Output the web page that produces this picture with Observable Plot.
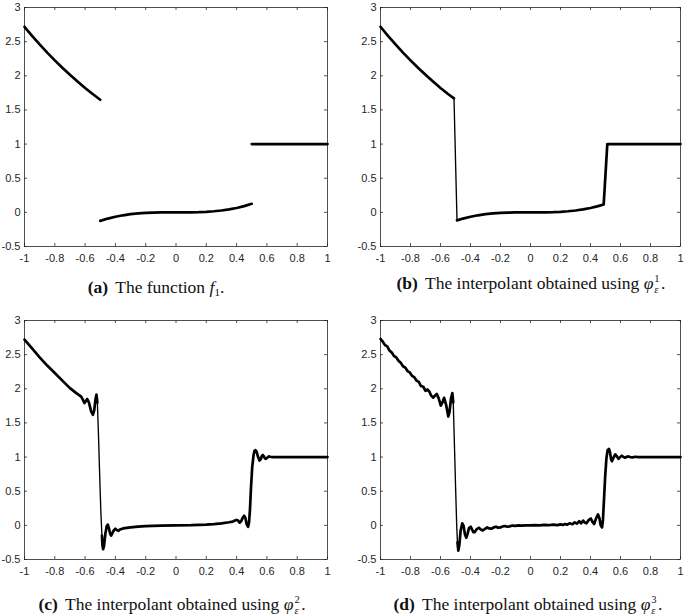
<!DOCTYPE html>
<html><head><meta charset="utf-8">
<script src="https://cdn.jsdelivr.net/npm/d3@7"></script>
<script src="https://cdn.jsdelivr.net/npm/@observablehq/plot@0.6"></script>
<style>
body{margin:0;background:#fff;}
#root{position:relative;width:685px;height:615px;overflow:hidden;background:#fff}
.panel{position:absolute}
.panel svg{overflow:visible;background:transparent}
.cap{position:absolute;font-family:"Liberation Serif","Times New Roman",serif;font-size:17.5px;white-space:nowrap;line-height:1;color:#111;transform:translateX(-50%)}
.cap b{margin-right:3px}
.ss{display:inline-flex;flex-direction:column;font-size:10.5px;line-height:11px;vertical-align:7px;margin-left:1px;margin-right:1.5px}
.cap sub{font-size:11px;vertical-align:-3px;line-height:0}
</style></head>
<body><div id="root"></div>
<script>
// ---- axis ticks ----
const xTicks = [-1,-0.8,-0.6,-0.4,-0.2,0,0.2,0.4,0.6,0.8,1];
const xTickLabels = ["-1","-0.8","-0.6","-0.4","-0.2","0","0.2","0.4","0.6","0.8","1"];
const yTicks = [-0.5,0,0.5,1,1.5,2,2.5,3];
const yTickLabels = ["-0.5","0","0.5","1","1.5","2","2.5","3"];

// ---- (a) the function f1 ----
const aLeft = [[-1,2.718],[-0.95,2.586],[-0.9,2.460],[-0.85,2.340],[-0.8,2.226],[-0.75,2.117],[-0.7,2.014],[-0.65,1.916],[-0.6,1.822],[-0.55,1.733],[-0.5,1.649]];
const aMid = [[-0.5,-0.125],[-0.45,-0.091],[-0.4,-0.064],[-0.35,-0.043],[-0.3,-0.027],[-0.25,-0.016],[-0.2,-0.008],[-0.15,-0.003],[-0.1,-0.001],[0,0],[0.1,0.001],[0.15,0.003],[0.2,0.008],[0.25,0.016],[0.3,0.027],[0.35,0.043],[0.4,0.064],[0.45,0.091],[0.5,0.125]];
const aRight = [[0.5,1],[1,1]];

// ---- (b) interpolant, phi^1 ----
const bLeft = [[-1,2.718],[-0.95,2.586],[-0.9,2.460],[-0.85,2.340],[-0.8,2.226],[-0.75,2.117],[-0.7,2.014],[-0.65,1.916],[-0.6,1.822],[-0.55,1.733],[-0.51,1.67]];
const bDrop = [[-0.51,1.67],[-0.49,-0.118]];
const bRest = [[-0.49,-0.118],[-0.45,-0.091],[-0.4,-0.064],[-0.35,-0.043],[-0.3,-0.027],[-0.25,-0.016],[-0.2,-0.008],[-0.15,-0.003],[-0.1,-0.001],[0,0],[0.1,0.001],[0.15,0.003],[0.2,0.008],[0.25,0.016],[0.3,0.027],[0.35,0.043],[0.4,0.064],[0.45,0.091],[0.488,0.116],[0.512,1.0],[1,1]];

// ---- (c) interpolant, phi^2 ----
const cLeft = [[-1,2.72],[-0.95,2.59],[-0.9,2.46],[-0.85,2.34],[-0.8,2.23],[-0.75,2.12],[-0.7,2.01],[-0.66,1.94],[-0.626,1.886],[-0.615,1.84],[-0.604,1.79],[-0.595,1.82],[-0.586,1.85],[-0.575,1.80],[-0.56,1.67],[-0.549,1.62],[-0.54,1.68],[-0.531,1.85],[-0.525,1.915],[-0.519,1.80]];
const cDrop = [[-0.519,1.80],[-0.512,1.35],[-0.504,0.75],[-0.496,0.2],[-0.489,-0.15]];
const cRest = [[-0.489,-0.15],[-0.485,-0.30],[-0.481,-0.35],[-0.475,-0.30],[-0.466,-0.12],[-0.457,-0.01],[-0.450,0.01],[-0.443,-0.04],[-0.435,-0.12],[-0.428,-0.15],[-0.419,-0.11],[-0.41,-0.07],[-0.40,-0.05],[-0.39,-0.07],[-0.38,-0.08],[-0.37,-0.06],[-0.35,-0.045],[-0.3,-0.03],[-0.25,-0.018],[-0.2,-0.01],[-0.1,-0.003],[0,0],[0.1,0.002],[0.2,0.01],[0.25,0.018],[0.3,0.03],[0.35,0.045],[0.375,0.055],[0.39,0.07],[0.4,0.08],[0.41,0.07],[0.42,0.04],[0.43,0.06],[0.44,0.11],[0.45,0.14],[0.458,0.11],[0.466,0.02],[0.476,-0.02],[0.482,0.04],[0.488,0.22],[0.495,0.55],[0.503,0.85],[0.512,1.03],[0.518,1.09],[0.525,1.10],[0.532,1.08],[0.542,1.00],[0.551,0.95],[0.56,0.97],[0.567,1.02],[0.573,1.03],[0.58,1.01],[0.587,0.98],[0.594,0.975],[0.602,0.99],[0.612,1.01],[0.622,1.005],[0.635,1.0],[0.7,1.0],[1,1.0]];

// ---- (d) interpolant, phi^3 ----
const dLeft = [[-1,2.73],[-0.985,2.69],[-0.97,2.64],[-0.955,2.62],[-0.94,2.56],[-0.925,2.53],[-0.91,2.48],[-0.895,2.46],[-0.88,2.41],[-0.865,2.38],[-0.85,2.33],[-0.835,2.31],[-0.82,2.26],[-0.805,2.24],[-0.79,2.19],[-0.775,2.17],[-0.76,2.12],[-0.745,2.10],[-0.73,2.04],[-0.715,2.03],[-0.70,1.97],[-0.688,1.99],[-0.675,1.96],[-0.662,1.90],[-0.649,1.87],[-0.637,1.90],[-0.625,1.926],[-0.612,1.86],[-0.598,1.755],[-0.587,1.80],[-0.576,1.868],[-0.562,1.76],[-0.548,1.594],[-0.540,1.66],[-0.53,1.86],[-0.521,1.936],[-0.515,1.80]];
const dDrop = [[-0.515,1.80],[-0.508,1.25],[-0.500,0.6],[-0.492,0.0],[-0.487,-0.25]];
const dRest = [[-0.487,-0.25],[-0.481,-0.37],[-0.474,-0.28],[-0.466,-0.08],[-0.455,0.03],[-0.447,0.0],[-0.437,-0.13],[-0.428,-0.18],[-0.419,-0.12],[-0.41,-0.04],[-0.399,-0.02],[-0.39,-0.06],[-0.381,-0.10],[-0.373,-0.10],[-0.36,-0.06],[-0.344,-0.035],[-0.331,-0.06],[-0.318,-0.075],[-0.303,-0.05],[-0.289,-0.03],[-0.274,-0.045],[-0.26,-0.05],[-0.245,-0.03],[-0.23,-0.02],[-0.215,-0.035],[-0.2,-0.03],[-0.185,-0.015],[-0.17,-0.01],[-0.155,-0.02],[-0.14,-0.015],[-0.12,-0.003],[-0.1,-0.008],[-0.08,0.0],[-0.06,-0.005],[-0.03,0.0],[0,0],[0.03,0.002],[0.06,0.0],[0.09,0.006],[0.12,0.002],[0.15,0.01],[0.18,0.003],[0.2,0.015],[0.215,0.005],[0.23,0.02],[0.245,0.01],[0.26,0.03],[0.28,0.015],[0.295,0.045],[0.31,0.025],[0.325,0.06],[0.338,0.03],[0.351,0.07],[0.362,0.04],[0.373,0.03],[0.388,0.08],[0.402,0.10],[0.413,0.05],[0.424,0.02],[0.437,0.10],[0.45,0.16],[0.46,0.10],[0.468,0.0],[0.477,-0.03],[0.483,0.08],[0.49,0.38],[0.498,0.72],[0.506,0.98],[0.514,1.10],[0.523,1.12],[0.531,1.06],[0.537,0.97],[0.543,0.94],[0.553,0.99],[0.565,1.04],[0.576,1.01],[0.587,0.975],[0.598,1.00],[0.609,1.02],[0.62,1.00],[0.631,0.99],[0.642,1.005],[0.653,1.01],[0.665,1.0],[0.68,0.995],[0.7,1.005],[0.72,1.0],[0.75,1.0],[1,1.0]];

const captions = [
  '<b>(a)</b> The function <i>f</i><sub>1</sub>.',
  '<b>(b)</b> The interpolant obtained using <i>φ</i><span class="ss"><span>1</span><span><i>ε</i></span></span>.',
  '<b>(c)</b> The interpolant obtained using <i>φ</i><span class="ss"><span>2</span><span><i>ε</i></span></span>.',
  '<b>(d)</b> The interpolant obtained using <i>φ</i><span class="ss"><span>3</span><span><i>ε</i></span></span>.'
];

// ---- layout ----
const layout = [
  {left:0,   top:0,   ml:24, mr:15, solid:[aLeft,aMid,aRight], thin:[],      capX:156, capBase:293},
  {left:341, top:0,   ml:39, mr:3,  solid:[bLeft,bRest],       thin:[bDrop], capX:531, capBase:287},
  {left:0,   top:313, ml:24, mr:15, solid:[cLeft,cRest],       thin:[cDrop], capX:172, capBase:608},
  {left:341, top:313, ml:39, mr:3,  solid:[dLeft,dRest],       thin:[dDrop], capX:528, capBase:608}
];
const W = 342, H = 265, MT = 7, MB = 19;
const root = document.getElementById("root");
const toRows = (list) => list.flatMap((s, k) => s.map(([x, y]) => ({x, y, k})));

layout.forEach((p, i) => {
  const fw = W - p.ml - p.mr, fh = H - MT - MB, t = 3;
  const chart = Plot.plot({
    width: W, height: H, marginLeft: p.ml, marginRight: p.mr, marginTop: MT, marginBottom: MB,
    style: {fontFamily: "'Liberation Sans', Arial, sans-serif", fontSize: "11px", background: "transparent", overflow: "visible"},
    x: {domain: [-1, 1]},
    y: {domain: [-0.5, 3]},
    marks: [
      Plot.frame({stroke: "#262626", strokeWidth: 0.8}),
      Plot.tickX(xTicks, {x: d => d, insetTop: fh - t, stroke: "#262626", strokeWidth: 0.8}),
      Plot.tickX(xTicks, {x: d => d, insetBottom: fh - t, stroke: "#262626", strokeWidth: 0.8}),
      Plot.tickY(yTicks, {y: d => d, insetRight: fw - t, stroke: "#262626", strokeWidth: 0.8}),
      Plot.tickY(yTicks, {y: d => d, insetLeft: fw - t, stroke: "#262626", strokeWidth: 0.8}),
      Plot.axisX({anchor: "bottom", ticks: xTicks, tickSize: 0, tickPadding: 8, fill: "#262626", label: null,
        tickFormat: d => xTickLabels[xTicks.indexOf(d)]}),
      Plot.axisY({anchor: "left", ticks: yTicks, tickSize: 0, tickPadding: 4, fill: "#262626", label: null,
        tickFormat: d => yTickLabels[yTicks.indexOf(d)]}),
      Plot.line(toRows(p.thin), {x: "x", y: "y", z: "k", stroke: "#000", strokeWidth: 1.4, strokeDasharray: "1.2,0.5"}),
      Plot.line(toRows(p.solid), {x: "x", y: "y", z: "k", stroke: "#000", strokeWidth: 2.7})
    ]
  });
  const div = document.createElement("div");
  div.className = "panel";
  div.style.left = p.left + "px";
  div.style.top = p.top + "px";
  div.appendChild(chart);
  root.appendChild(div);

  const cap = document.createElement("div");
  cap.className = "cap";
  cap.innerHTML = captions[i];
  cap.style.left = p.capX + "px";
  cap.style.top = (p.capBase - 14) + "px";
  root.appendChild(cap);
});
</script>
</body></html>
